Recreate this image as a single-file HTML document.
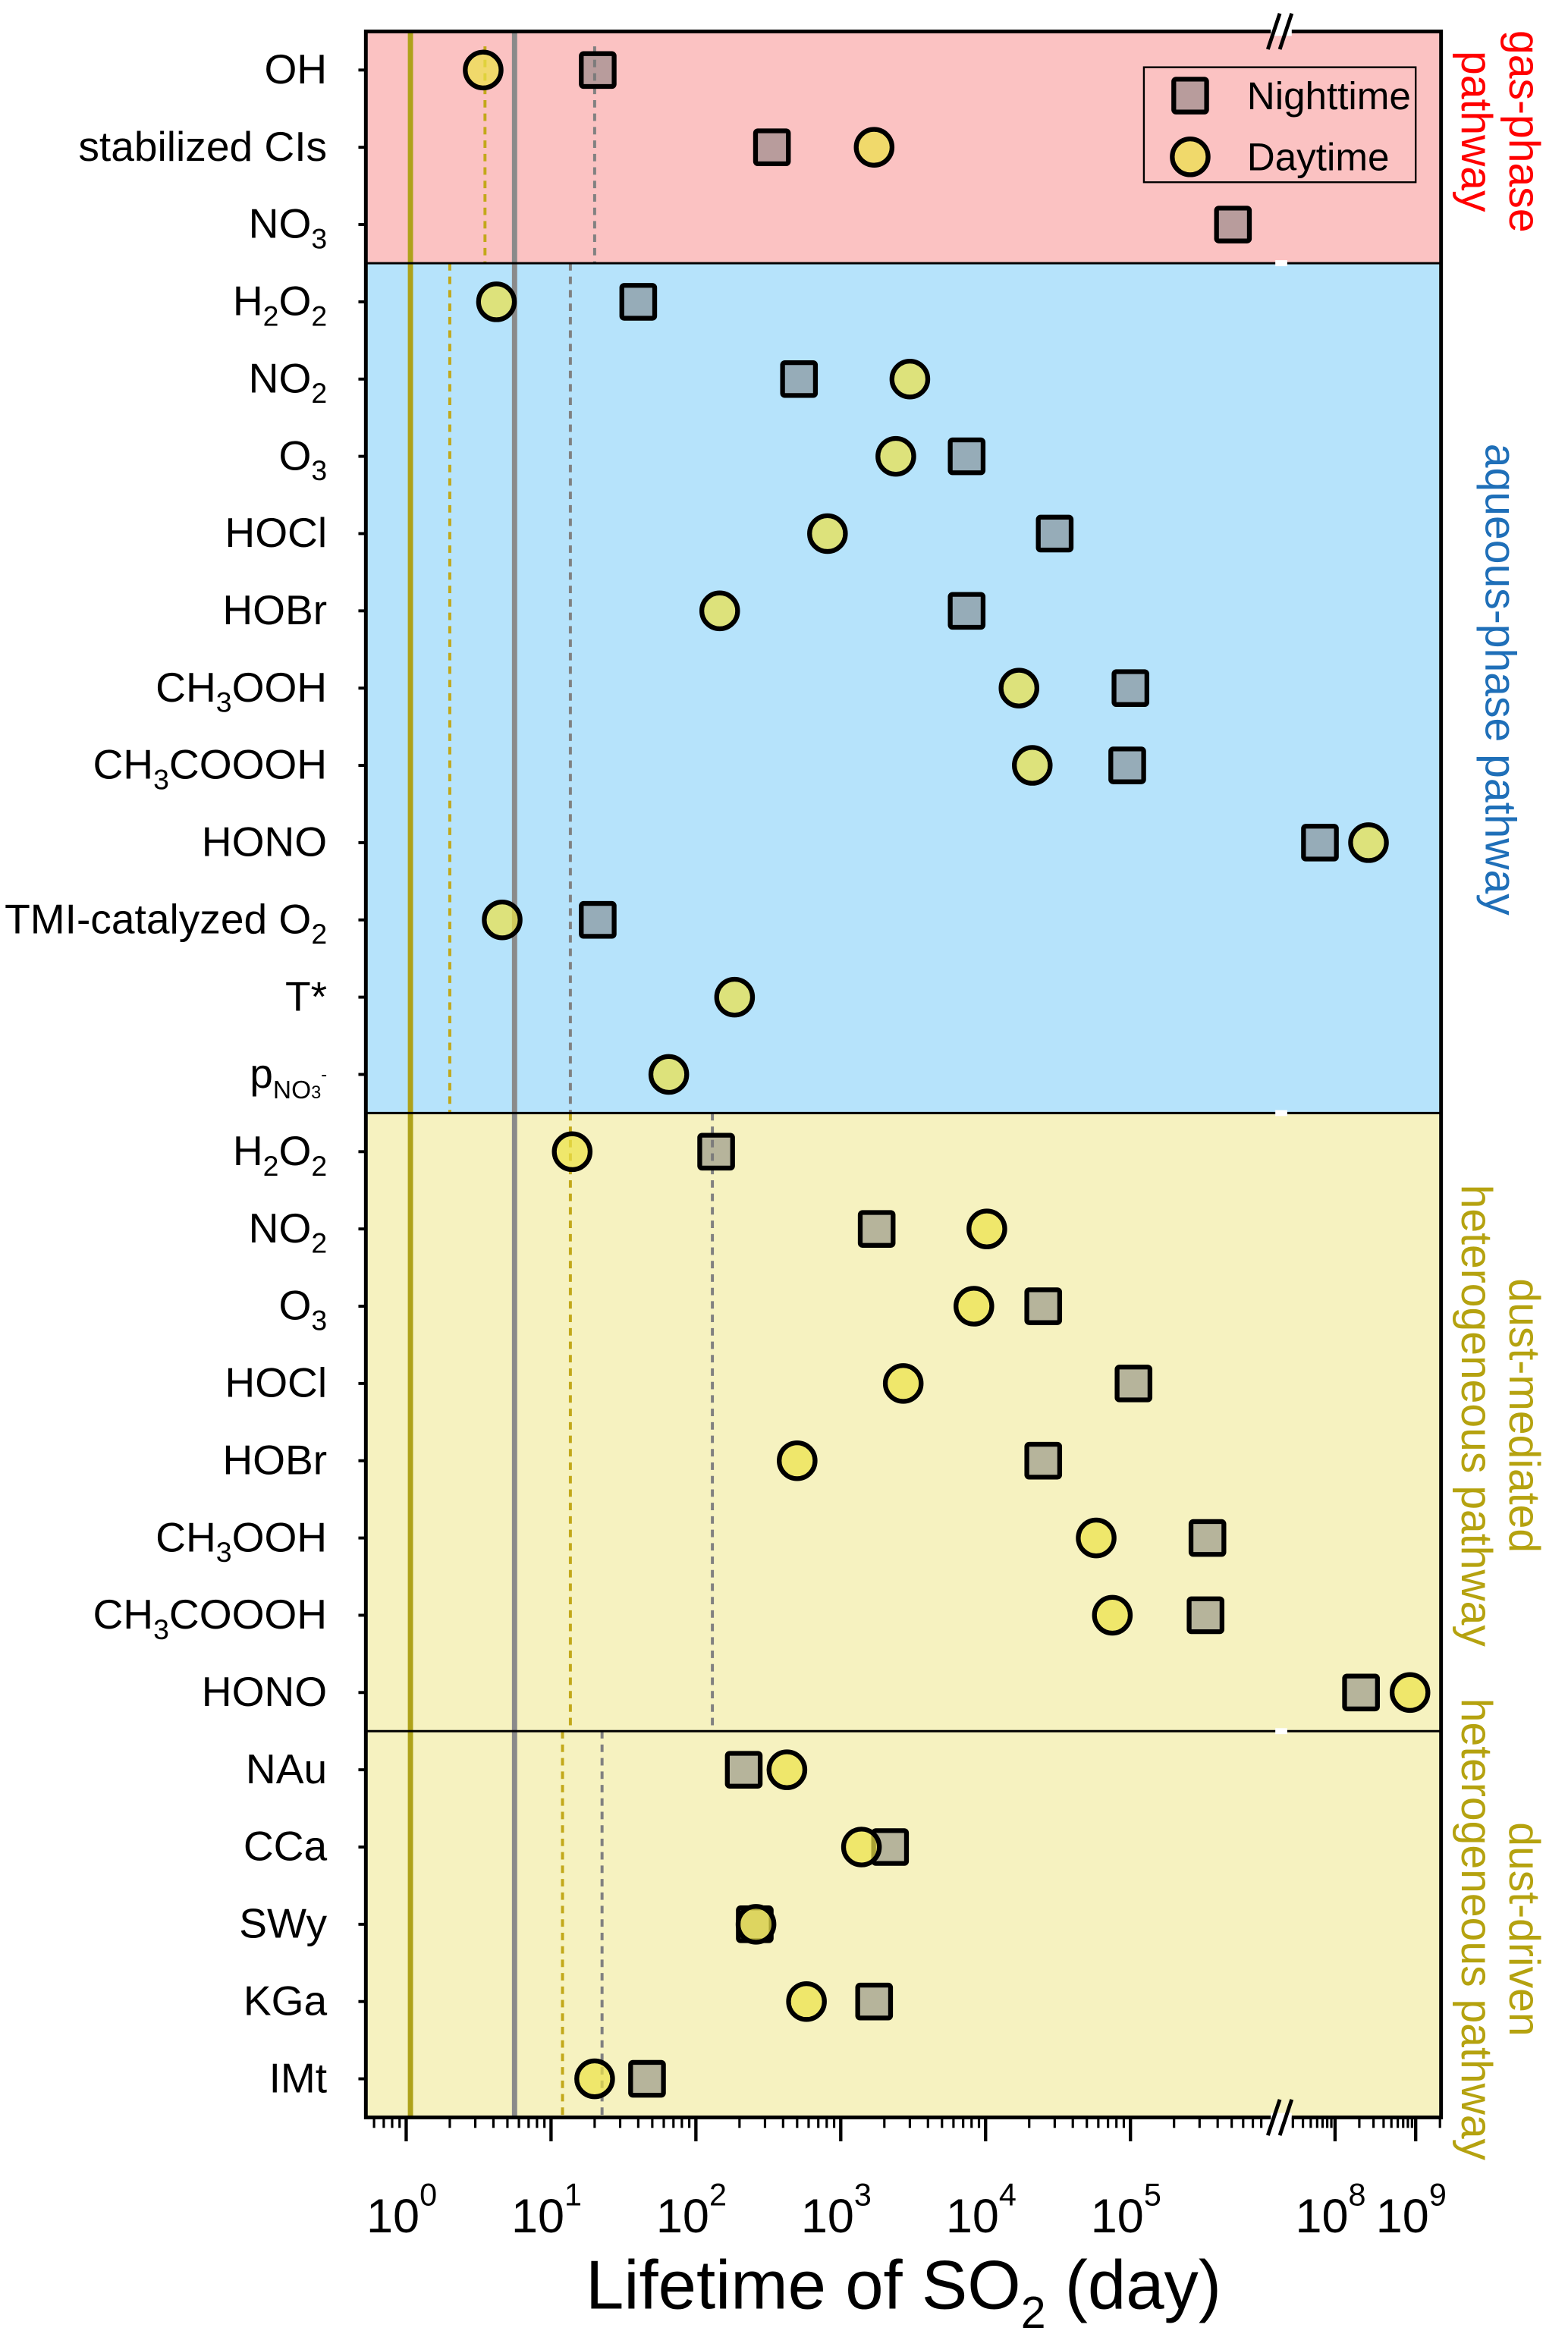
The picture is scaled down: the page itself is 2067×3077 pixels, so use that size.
<!DOCTYPE html>
<html><head><meta charset="utf-8"><style>
html,body{margin:0;padding:0;background:#fff;}
svg{display:block;font-family:"Liberation Sans",Arial,sans-serif;}
</style></head><body>
<svg id="chart" width="2067" height="3077" viewBox="0 0 1050 1563" xmlns="http://www.w3.org/2000/svg">
<g id="bg"></g>
<g id="vlines"></g>
<g id="marks"></g>
<g id="axes"></g>
<g id="labels"></g>
</svg>
<script>
const categories=["OH","stabilized CIs","NO3","H2O2","NO2","O3","HOCl","HOBr","CH3OOH","CH3COOOH","HONO","TMI-catalyzed O2","T*","pNO3","H2O2","NO2","O3","HOCl","HOBr","CH3OOH","CH3COOOH","HONO","NAu","CCa","SWy","KGa","IMt"];
const nightValues=[21,335,5.1e5,40,515,7400,30000,7400,1e5,95000,6.5e7,21,null,null,138,1770,25000,1.05e5,25000,3.4e5,3.3e5,2.1e8,214,2190,255,1700,46];
const dayValues=[3.4,1700,null,4.2,3000,2400,810,146,17000,21000,2.6e8,4.6,185,65,14,10200,8300,2700,500,58000,75000,8.5e8,425,1390,260,580,20];
const sectionRows=[[0,2],[3,13],[14,21],[22,26]];
const dashNight=[20,13.6,130,22.5];
const dashDay=[3.5,2.0,13.6,12];
const solidDay=1.07, solidNight=5.6;
const tickExps=[0,1,2,3,4,5,8,9];

const NS="http://www.w3.org/2000/svg";
const L=245,R=965,T=21,B=1418,BRK=858;
function x(v){const l=Math.log10(v);return l<=6.1?272+97*l:894+54*(l-8);}
const rowH=(B-T)/categories.length;
function y(i){return T+rowH*(i+0.5);}
function el(p,t,a,txt){const e=document.createElementNS(NS,t);for(const k in a)e.setAttribute(k,a[k]);if(txt!=null)e.textContent=txt;p.appendChild(e);return e;}
const bg=document.getElementById('bg'),vl=document.getElementById('vlines'),mk=document.getElementById('marks'),ax=document.getElementById('axes'),lb=document.getElementById('labels');
const secColors=["#fbc2c2","#b6e3fb","#f6f2c0","#f6f2c0"];
const secNames=["gas-phase-section","aqueous-phase-section","dust-mediated-section","dust-driven-section"];
sectionRows.forEach((s,k)=>{
 const y0=k==0?T:T+rowH*s[0],y1=k==3?B:T+rowH*(s[1]+1);
 const r=el(bg,'rect',{x:L,y:y0,width:R-L,height:y1-y0,fill:secColors[k]});
 
 
 const y0d=k==0?T+10:y0;
 const dn=el(vl,'line',{x1:x(dashNight[k]),x2:x(dashNight[k]),y1:y0d,y2:y1,stroke:'#808080','stroke-width':2,'stroke-dasharray':'5,4'});
 
 
 const dd=el(vl,'line',{x1:x(dashDay[k]),x2:x(dashDay[k]),y1:y0d,y2:y1,stroke:'#c2a81a','stroke-width':2,'stroke-dasharray':'5,4'});
 
 
 if(k>0){
  const sl=el(ax,'line',{x1:L,x2:R,y1:y0,y2:y0,stroke:'#000','stroke-width':1.5});
  
  
  el(ax,'rect',{x:BRK-4,y:y0-2,width:8,height:4,fill:'#fff'});
 }
});
const s1=el(vl,'line',{x1:x(solidDay),x2:x(solidDay),y1:T,y2:B,stroke:'#aea21a','stroke-width':3.5});


const s2=el(vl,'line',{x1:x(solidNight),x2:x(solidNight),y1:T,y2:B,stroke:'#8a8a8a','stroke-width':3.5});



function square(p,cx,cy){const r=el(p,'rect',{x:cx-11,y:cy-11,width:22,height:22,rx:1.5,fill:'rgba(118,118,118,0.5)',stroke:'#000','stroke-width':3.2});return r;}
function circle(p,cx,cy){return el(p,'circle',{cx:cx,cy:cy,r:12,fill:'rgba(235,226,74,0.72)',stroke:'#000','stroke-width':3.2});}
categories.forEach((c,i)=>{
 if(nightValues[i]!=null){const s=square(mk,x(nightValues[i]),y(i));
  
  }
 if(dayValues[i]!=null){const d=circle(mk,x(dayValues[i]),y(i));
  
  }
 el(ax,'line',{x1:L-5,x2:L,y1:y(i),y2:y(i),stroke:'#000','stroke-width':2});
 const t=el(lb,'text',{x:219,y:y(i)+9,'font-size':28,'text-anchor':'end',fill:'#000'});
 
 
 const m=c.match(/^(.*?)(\d)(.*)$/);
 if(c=="pNO3"){el(t,'tspan',{},'p');el(t,'tspan',{'font-size':17,dy:7},'NO');el(t,'tspan',{'font-size':12,dy:0},'3');el(t,'tspan',{'font-size':12,dy:-12},'-');}
 else if(m){el(t,'tspan',{},m[1]);el(t,'tspan',{'font-size':19,dy:7},m[2]);
   if(m[3]){const rest=m[3].match(/^(.*?)(\d)(.*)$/);
     if(rest){el(t,'tspan',{dy:-7},rest[1]);el(t,'tspan',{'font-size':19,dy:7},rest[2]);}
     else el(t,'tspan',{dy:-7},m[3]);}}
 else t.textContent=c;
});
const fr=el(ax,'path',{d:`M${L},${T} H${R} V${B} H${L} Z`,fill:'none',stroke:'#000','stroke-width':2.5});


el(ax,'rect',{x:BRK-7,y:T-3,width:14,height:6,fill:'#fff'});
el(ax,'rect',{x:BRK-7,y:B-3,width:14,height:6,fill:'#fff'});
[T,B].forEach(yy=>{[-5,3].forEach(o=>{const bl=el(ax,'line',{x1:BRK+o-4,y1:yy+12,x2:BRK+o+4,y2:yy-12,stroke:'#000','stroke-width':2.5});
 
 });});
for(let d=-1;d<=9;d++){for(let k=1;k<=9;k++){const v=k*Math.pow(10,d);const l=Math.log10(v);
 let ok=(l>=-0.28&&l<=5.95)||(l>=7.35&&l<=9.38);if(!ok)continue;
 const xx=x(v);const major=k==1;
 el(ax,'line',{x1:xx,x2:xx,y1:B,y2:B+(major?16:7),stroke:'#000','stroke-width':major?2.2:1.6});}}
tickExps.forEach(e=>{const t=el(lb,'text',{x:x(Math.pow(10,e))-3,y:1495,'font-size':32,'text-anchor':'middle'});
 
 
 el(t,'tspan',{},'10');el(t,'tspan',{'font-size':21,dy:-18},String(e));});
const xt=el(lb,'text',{x:605,y:1546,'font-size':46,'text-anchor':'middle'});


el(xt,'tspan',{},'Lifetime of SO');el(xt,'tspan',{'font-size':30,dy:13},'2');el(xt,'tspan',{dy:-13},' (day)');
const lg=el(lb,'g',{});


el(lg,'rect',{x:766,y:45,width:182,height:77,fill:'none',stroke:'#000','stroke-width':1.2});
const ls=square(lg,797,64);
const lc=circle(lg,797,105);
const ln=el(lg,'text',{x:835,y:73,'font-size':26},'Nighttime');
const ld=el(lg,'text',{x:835,y:114,'font-size':26},'Daytime');
function vlabel(lines,cx,cy,color,name){const g=el(lb,'text',{transform:`translate(${cx},${cy}) rotate(90)`,'font-size':29,fill:color,'text-anchor':'middle'});
 
 
 lines.forEach((s,i)=>{el(g,'tspan',{x:0,y:(i-(lines.length-1)/2)*32+10},s);});}
vlabel(["gas-phase","pathway"],1005,88,"#ff0000","gas-phase-label");
vlabel(["aqueous-phase pathway"],1005,455,"#1f6fb8","aqueous-phase-label");
vlabel(["dust-mediated","heterogeneous pathway"],1005,948,"#b5a20f","dust-mediated-label");
vlabel(["dust-driven","heterogeneous pathway"],1005,1292,"#b5a20f","dust-driven-label");
</script>
</body></html>
